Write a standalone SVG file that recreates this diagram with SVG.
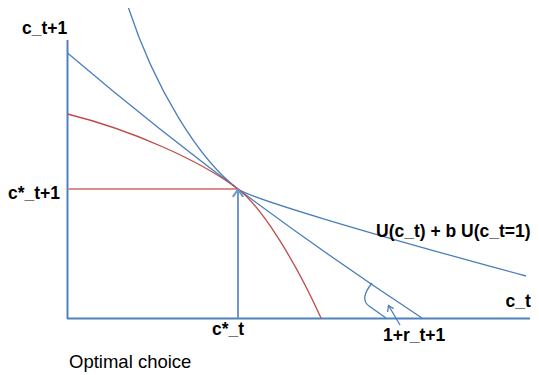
<svg xmlns="http://www.w3.org/2000/svg" width="539" height="375" viewBox="0 0 539 375">
<style>
.lbl{font-family:"Liberation Sans",Arial,sans-serif;font-size:17.5px;font-weight:bold;fill:#000}
.cap{font-family:"Liberation Sans",Arial,sans-serif;font-size:18.5px;fill:#000}
.blue{fill:none;stroke:#4A7EBB;stroke-width:1.3}
.red{fill:none;stroke:#BE4B48;stroke-width:1.3}
.axis{fill:none;stroke:#4F81BD;stroke-width:2}
</style>
<rect width="539" height="375" fill="#fff"/>
<g id="connectors">
<line id="y-axis" class="axis" x1="67.5" y1="40" x2="67.5" y2="319" stroke="#7FA3D3"/>
<line id="x-axis" class="axis" x1="67" y1="318.5" x2="530" y2="318.5" stroke-width="1.6"/>
<line id="level-line" x1="68" y1="189" x2="237" y2="189" stroke="#DA8F8D" stroke-width="2.2"/>
<path id="budget" class="blue" d="M67.5,53 Q231,192.5 422,318"/>
<path id="indifference" class="blue" d="M128.5,8 C154.3,86.8 198.3,159.2 238,189 C250,198 364.8,232.5 526,276"/>
<path id="ppf" class="red" d="M67.5,114 C130.9,129.8 199.1,159.8 238,189 C260.2,205.6 293.4,257.2 321,318"/>
<g id="vertical-arrow" fill="none" stroke="#6F97CC" stroke-width="2">
<line x1="238" y1="318" x2="238" y2="190"/>
<polyline points="232.8,196.8 238,189.5 243.2,196.8"/>
</g>
<path id="angle-arc" class="blue" d="M372,283 C364,293 362,301 369,306 L386,318"/>
<g id="angle-arrow" class="blue">
<line x1="400" y1="325" x2="388.5" y2="305.5"/>
<polyline points="387.6,312 388.5,305.5 393.6,308.6"/>
</g>
</g>
<g id="labels">
<text id="t-ct1" class="lbl" x="22" y="33.5">c_t+1</text>
<text id="t-cst1" class="lbl" x="8" y="199">c*_t+1</text>
<text id="t-cst" class="lbl" x="212" y="335">c*_t</text>
<text id="t-U" class="lbl" x="376" y="237">U(c_t) + b U(c_t=1)</text>
<text id="t-ct" class="lbl" x="505.5" y="307">c_t</text>
<text id="t-r" class="lbl" x="383" y="341">1+r_t+1</text>
<text id="t-cap" class="cap" x="69" y="368">Optimal choice</text>
</g>
</svg>
